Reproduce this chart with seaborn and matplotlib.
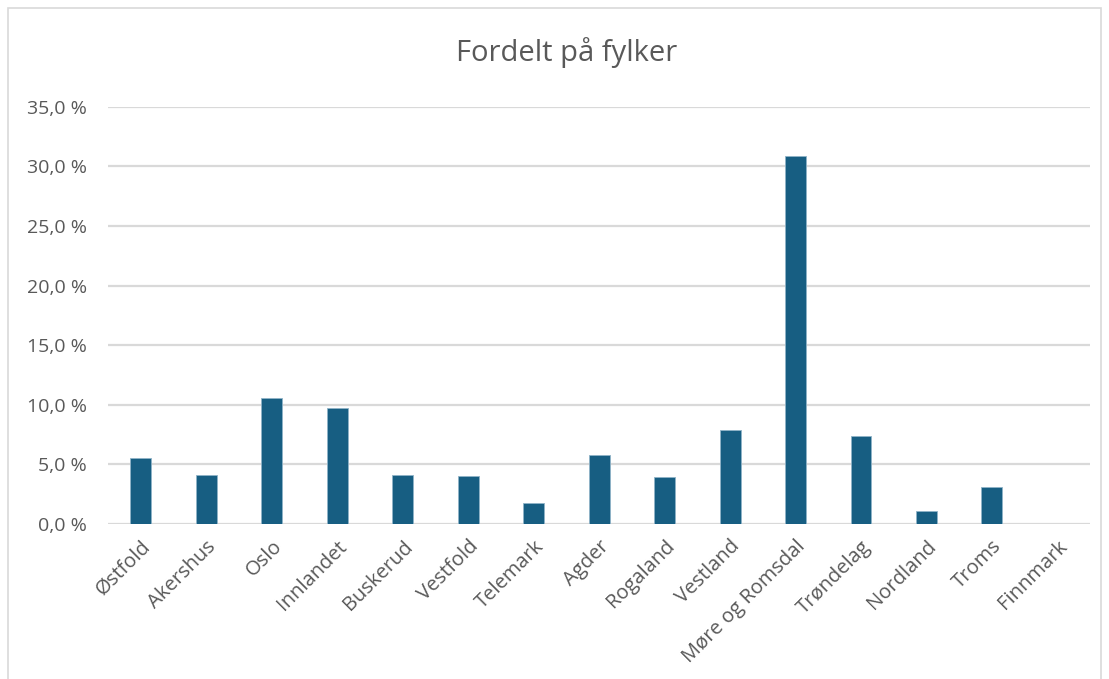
import matplotlib
matplotlib.use("Agg")
import matplotlib.pyplot as plt
import seaborn as sns
import pandas as pd
from matplotlib.patches import Rectangle
from matplotlib.ticker import FuncFormatter

# Data
fylker = ["Østfold", "Akershus", "Oslo", "Innlandet", "Buskerud", "Vestfold",
          "Telemark", "Agder", "Rogaland", "Vestland", "Møre og Romsdal",
          "Trøndelag", "Nordland", "Troms", "Finnmark"]
andel = [5.5, 4.1, 10.6, 9.7, 4.1, 4.0, 1.8, 5.8, 3.9, 7.9, 30.9, 7.4, 1.1, 3.1, 0.0]
y_ticks = [0, 5, 10, 15, 20, 25, 30, 35]

df = pd.DataFrame({"fylke": fylker, "andel": andel})

sns.set_style("white")
plt.rcParams["font.family"] = ["Open Sans", "DejaVu Sans"]

fig = plt.figure(figsize=(11.09, 6.79), dpi=100)
ax = fig.add_axes([0.0974, 0.2283, 0.8856, 0.6146])

sns.barplot(data=df, x="fylke", y="andel", color="#175E82", width=0.32,
            edgecolor="#8FB3C8", linewidth=0.6, saturation=1, ax=ax, zorder=3)

ax.set_ylim(0, 35)
ax.set_yticks(y_ticks)
ax.yaxis.set_major_formatter(FuncFormatter(lambda v, p: f"{v:.1f} %".replace(".", ",")))
ax.grid(axis="y", color="#D9D9D9", linewidth=1.6, zorder=0)
ax.set_axisbelow(True)
for s in ax.spines.values():
    s.set_visible(False)
ax.set_xlabel("")
ax.set_ylabel("")
ax.tick_params(axis="y", length=0, pad=15, labelsize=14, labelcolor="#595959")
ax.tick_params(axis="x", length=0, pad=9, labelsize=14.5, labelcolor="#595959")
plt.setp(ax.get_xticklabels(), rotation=45, ha="right", rotation_mode="anchor")

fig.text(0.511, 0.922, "Fordelt på fylker", ha="center", va="center",
         fontsize=21, color="#595959")

# chart border like in the spreadsheet
fig.patches.append(Rectangle((0.0075, -0.02), 0.985, 1.008, transform=fig.transFigure,
                             fill=False, edgecolor="#D9D9D9", linewidth=1.2))

fig.savefig("out.png", dpi=100)
